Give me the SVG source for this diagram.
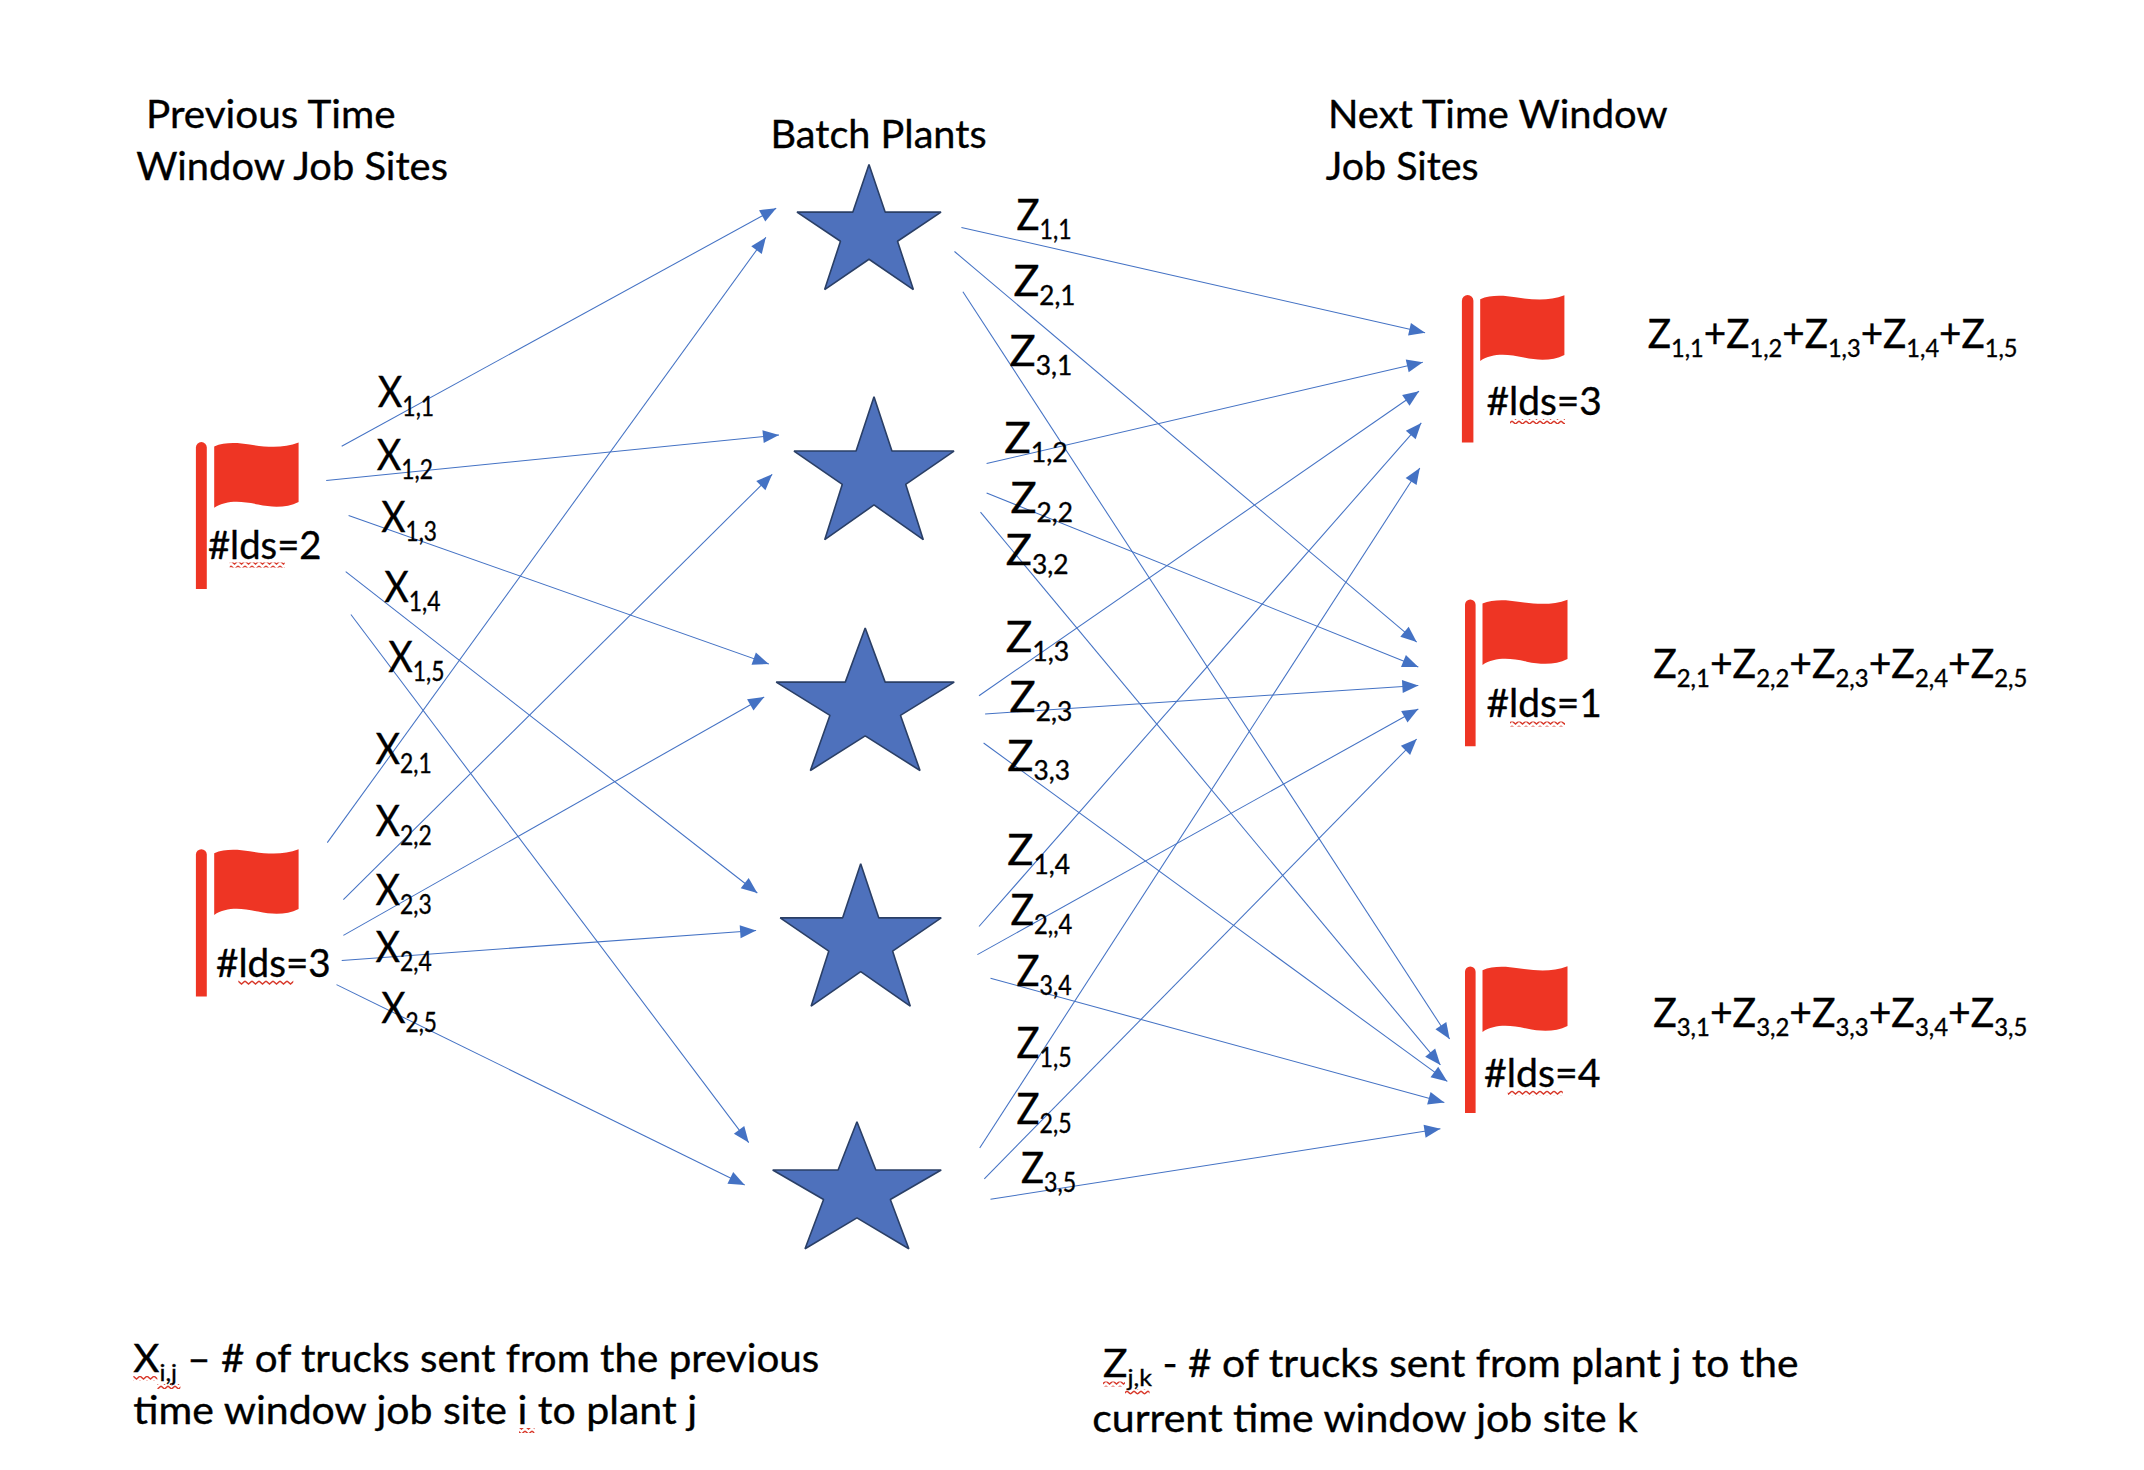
<svg xmlns="http://www.w3.org/2000/svg" width="2144" height="1470" viewBox="0 0 2144 1470">
<style>
text{font-family:Lato,"Liberation Sans",sans-serif;font-size:39px;fill:#000;stroke:#000;stroke-width:.35}
#x-labels text,#z-labels text{font-size:43px}
#sums text{font-size:41px}
.s{font-size:26px}
#sums .s{font-size:25px}
#legend .s{font-size:24px}
.c{fill:none;stroke:#4472C4;stroke-width:1.05;marker-end:url(#a)}
.r{fill:#EE3524}
.star{fill:#4E71BC;stroke:#2A3F66;stroke-width:1.6;stroke-linejoin:bevel;vector-effect:non-scaling-stroke}
symbol{overflow:visible}
</style>
<defs>
<marker id="a" markerUnits="userSpaceOnUse" markerWidth="18" markerHeight="14" refX="16" refY="7" orient="auto" overflow="visible"><path d="M0,0.5L16,7L0,13.5Z" fill="#4472C4"/></marker>
<symbol id="star" viewBox="0 0 100 100" preserveAspectRatio="none"><polygon class="star" points="50,0 61.2,38 100,38 69.8,61.3 80.8,100 50,75.7 19.2,100 30.2,61.3 0,38 38.8,38"/></symbol>
<symbol id="flag" viewBox="0 0 100 100" preserveAspectRatio="none"><path class="r" d="M0,6C12,-1 28,0 42,3C62,7 82,9 100,0L100,91C86,100 70,100 52,95C32,89 14,88 0,100Z"/></symbol>
<pattern id="sq" width="7" height="5" patternUnits="userSpaceOnUse"><path d="M0,1L3.5,4L7,1" fill="none" stroke="#D8392B" stroke-width="1.5"/></pattern>
</defs>
<rect width="2144" height="1470" fill="#fff"/>
<g id="connectors">
<line class="c" x1="341.7" y1="446.2" x2="776.2" y2="208.2"/>
<line class="c" x1="326.2" y1="480.5" x2="779" y2="435"/>
<line class="c" x1="348.6" y1="515.4" x2="768.8" y2="664"/>
<line class="c" x1="345.7" y1="571.6" x2="757.3" y2="893"/>
<line class="c" x1="350.9" y1="614.5" x2="748.7" y2="1142.6"/>
<line class="c" x1="327.3" y1="842.6" x2="765.9" y2="237.2"/>
<line class="c" x1="343.4" y1="899.7" x2="772.2" y2="474.3"/>
<line class="c" x1="343.4" y1="935.4" x2="764.2" y2="697"/>
<line class="c" x1="341.7" y1="960.4" x2="756.1" y2="930.5"/>
<line class="c" x1="336.5" y1="984.6" x2="744.7" y2="1185"/>
<line class="c" x1="961.4" y1="227.4" x2="1425.1" y2="332.8"/>
<line class="c" x1="954.5" y1="251.5" x2="1416.7" y2="642.1"/>
<line class="c" x1="962.9" y1="291.7" x2="1449.6" y2="1039"/>
<line class="c" x1="986.6" y1="463.6" x2="1422.8" y2="362.2"/>
<line class="c" x1="986.6" y1="493" x2="1418.3" y2="667"/>
<line class="c" x1="980.5" y1="512.2" x2="1440.4" y2="1064.9"/>
<line class="c" x1="979" y1="695.7" x2="1419" y2="391.2"/>
<line class="c" x1="985.1" y1="714" x2="1418.3" y2="685.4"/>
<line class="c" x1="983.6" y1="743" x2="1447.3" y2="1081.4"/>
<line class="c" x1="979" y1="926.5" x2="1421.3" y2="422.9"/>
<line class="c" x1="977.4" y1="954.6" x2="1418.3" y2="709"/>
<line class="c" x1="990.5" y1="978.3" x2="1444.3" y2="1102.4"/>
<line class="c" x1="979.7" y1="1148" x2="1419.8" y2="468"/>
<line class="c" x1="984.3" y1="1178.8" x2="1416.7" y2="739"/>
<line class="c" x1="990.5" y1="1199.3" x2="1440.4" y2="1128.8"/>
</g>
<g id="site-prev-1"><path class="r" d="M195.9,589V447.5a5.4,5.4 0 0 1 10.9,0V589Z"/><use href="#flag" x="214.2" y="442.6" width="84.4" height="65.2"/><text x="207.9" y="558.7" textLength="113.7" lengthAdjust="spacingAndGlyphs">#lds=2</text><rect x="229.7" y="562.5" width="55" height="5" fill="url(#sq)"/></g>
<g id="site-prev-2"><path class="r" d="M195.9,996.6V854.6a5.4,5.4 0 0 1 10.9,0V996.6Z"/><use href="#flag" x="214.2" y="849.3" width="84.4" height="65.6"/><text x="216" y="977.4" textLength="114.8" lengthAdjust="spacingAndGlyphs">#lds=3</text><rect x="238.3" y="980" width="55" height="5" fill="url(#sq)"/></g>
<g id="plant-1"><use href="#star" x="797" y="164.6" width="144" height="125"/></g>
<g id="plant-2"><use href="#star" x="794" y="396.7" width="160" height="143"/></g>
<g id="plant-3"><use href="#star" x="776.2" y="628" width="178" height="142.5"/></g>
<g id="plant-4"><use href="#star" x="780.2" y="863.7" width="161" height="142.5"/></g>
<g id="plant-5"><use href="#star" x="772.7" y="1121.7" width="168.5" height="127"/></g>
<g id="site-next-1"><path class="r" d="M1461.9,442.6V300.7a5.7,5.7 0 0 1 11.5,0V442.6Z"/><use href="#flag" x="1480.2" y="295.3" width="84.2" height="65.6"/><text x="1486.4" y="414.9" textLength="115.5" lengthAdjust="spacingAndGlyphs">#lds=3</text><rect x="1510" y="419" width="55" height="5" fill="url(#sq)"/></g>
<g id="site-next-2"><path class="r" d="M1465,746.2V604.7a5.3,5.3 0 0 1 10.6,0V746.2Z"/><use href="#flag" x="1482.5" y="599.7" width="85" height="65.2"/><text x="1486.4" y="717" textLength="115.5" lengthAdjust="spacingAndGlyphs">#lds=1</text><rect x="1510" y="721.5" width="55" height="5" fill="url(#sq)"/></g>
<g id="site-next-3"><path class="r" d="M1465,1113.1V971.7a5.3,5.3 0 0 1 10.6,0V1113.1Z"/><use href="#flag" x="1482.5" y="966.3" width="85" height="65.6"/><text x="1484" y="1087.2" textLength="116.4" lengthAdjust="spacingAndGlyphs">#lds=4</text><rect x="1507.8" y="1090.5" width="55" height="5" fill="url(#sq)"/></g>
<g id="headings">
<text x="146" y="128" textLength="249.6" lengthAdjust="spacingAndGlyphs">Previous Time</text>
<text x="136.2" y="179.6" textLength="311.7" lengthAdjust="spacingAndGlyphs">Window Job Sites</text>
<text x="770.5" y="148" textLength="216.1" lengthAdjust="spacingAndGlyphs">Batch Plants</text>
<text x="1328" y="128.3" textLength="339.7" lengthAdjust="spacingAndGlyphs">Next Time Window</text>
<text x="1325.7" y="179.6" textLength="153" lengthAdjust="spacingAndGlyphs">Job Sites</text>
</g>
<g id="x-labels">
<text x="377.8" y="407.3" textLength="56.3" lengthAdjust="spacingAndGlyphs">X<tspan class="s" dy="9">1,1</tspan></text>
<text x="376.7" y="470.3" textLength="56.3" lengthAdjust="spacingAndGlyphs">X<tspan class="s" dy="9">1,2</tspan></text>
<text x="381.3" y="531.9" textLength="55.7" lengthAdjust="spacingAndGlyphs">X<tspan class="s" dy="9">1,3</tspan></text>
<text x="384.2" y="601.5" textLength="56.2" lengthAdjust="spacingAndGlyphs">X<tspan class="s" dy="9">1,4</tspan></text>
<text x="388.2" y="672" textLength="56.2" lengthAdjust="spacingAndGlyphs">X<tspan class="s" dy="9">1,5</tspan></text>
<text x="375.5" y="763.5" textLength="56.3" lengthAdjust="spacingAndGlyphs">X<tspan class="s" dy="9">2,1</tspan></text>
<text x="375.5" y="835.9" textLength="56.3" lengthAdjust="spacingAndGlyphs">X<tspan class="s" dy="9">2,2</tspan></text>
<text x="375.5" y="905" textLength="56.3" lengthAdjust="spacingAndGlyphs">X<tspan class="s" dy="9">2,3</tspan></text>
<text x="375.5" y="962" textLength="56.3" lengthAdjust="spacingAndGlyphs">X<tspan class="s" dy="9">2,4</tspan></text>
<text x="381.3" y="1023.4" textLength="55.7" lengthAdjust="spacingAndGlyphs">X<tspan class="s" dy="9">2,5</tspan></text>
</g>
<g id="z-labels">
<text x="1016.5" y="229.6" textLength="55.1" lengthAdjust="spacingAndGlyphs">Z<tspan class="s" dy="9">1,1</tspan></text>
<text x="1013.4" y="295.7" textLength="62" lengthAdjust="spacingAndGlyphs">Z<tspan class="s" dy="9">2,1</tspan></text>
<text x="1009.6" y="366.3" textLength="62.7" lengthAdjust="spacingAndGlyphs">Z<tspan class="s" dy="9">3,1</tspan></text>
<text x="1004.2" y="452.9" textLength="63.6" lengthAdjust="spacingAndGlyphs">Z<tspan class="s" dy="9">1,2</tspan></text>
<text x="1010.4" y="513" textLength="62.6" lengthAdjust="spacingAndGlyphs">Z<tspan class="s" dy="9">2,2</tspan></text>
<text x="1005.8" y="565.4" textLength="62.7" lengthAdjust="spacingAndGlyphs">Z<tspan class="s" dy="9">3,2</tspan></text>
<text x="1005.8" y="652.4" textLength="63.5" lengthAdjust="spacingAndGlyphs">Z<tspan class="s" dy="9">1,3</tspan></text>
<text x="1009.6" y="711.8" textLength="62.7" lengthAdjust="spacingAndGlyphs">Z<tspan class="s" dy="9">2,3</tspan></text>
<text x="1007.3" y="771" textLength="62.7" lengthAdjust="spacingAndGlyphs">Z<tspan class="s" dy="9">3,3</tspan></text>
<text x="1007.3" y="864.9" textLength="62.7" lengthAdjust="spacingAndGlyphs">Z<tspan class="s" dy="9">1,4</tspan></text>
<text x="1010.4" y="925.2" textLength="61.9" lengthAdjust="spacingAndGlyphs">Z<tspan class="s" dy="9">2,,4</tspan></text>
<text x="1016.5" y="986.3" textLength="55.1" lengthAdjust="spacingAndGlyphs">Z<tspan class="s" dy="9">3,4</tspan></text>
<text x="1016.5" y="1058.2" textLength="55.1" lengthAdjust="spacingAndGlyphs">Z<tspan class="s" dy="9">1,5</tspan></text>
<text x="1016.5" y="1123.8" textLength="55.1" lengthAdjust="spacingAndGlyphs">Z<tspan class="s" dy="9">2,5</tspan></text>
<text x="1021" y="1183.2" textLength="55.2" lengthAdjust="spacingAndGlyphs">Z<tspan class="s" dy="9">3,5</tspan></text>
</g>
<g id="sums">
<text x="1647.8" y="348" textLength="369.7" lengthAdjust="spacingAndGlyphs">Z<tspan class="s" dy="9">1,1</tspan><tspan dy="-9">+Z</tspan><tspan class="s" dy="9">1,2</tspan><tspan dy="-9">+Z</tspan><tspan class="s" dy="9">1,3</tspan><tspan dy="-9">+Z</tspan><tspan class="s" dy="9">1,4</tspan><tspan dy="-9">+Z</tspan><tspan class="s" dy="9">1,5</tspan></text>
<text x="1653.2" y="678.3" textLength="374.2" lengthAdjust="spacingAndGlyphs">Z<tspan class="s" dy="9">2,1</tspan><tspan dy="-9">+Z</tspan><tspan class="s" dy="9">2,2</tspan><tspan dy="-9">+Z</tspan><tspan class="s" dy="9">2,3</tspan><tspan dy="-9">+Z</tspan><tspan class="s" dy="9">2,4</tspan><tspan dy="-9">+Z</tspan><tspan class="s" dy="9">2,5</tspan></text>
<text x="1653.2" y="1027" textLength="374.2" lengthAdjust="spacingAndGlyphs">Z<tspan class="s" dy="9">3,1</tspan><tspan dy="-9">+Z</tspan><tspan class="s" dy="9">3,2</tspan><tspan dy="-9">+Z</tspan><tspan class="s" dy="9">3,3</tspan><tspan dy="-9">+Z</tspan><tspan class="s" dy="9">3,4</tspan><tspan dy="-9">+Z</tspan><tspan class="s" dy="9">3,5</tspan></text>
</g>
<g id="legend">
<text x="133.3" y="1371.6" textLength="686" lengthAdjust="spacingAndGlyphs">X<tspan class="s" dy="9">i,j</tspan><tspan dy="-9"> – # of trucks sent from the previous</tspan></text>
<text x="133.3" y="1423.8" textLength="563.7" lengthAdjust="spacingAndGlyphs">time window job site i to plant j</text>
<text x="1103" y="1377.4" textLength="695.6" lengthAdjust="spacingAndGlyphs">Z<tspan class="s" dy="9">j,k</tspan><tspan dy="-9"> - # of trucks sent from plant j to the</tspan></text>
<text x="1092.2" y="1431.9" textLength="545.7" lengthAdjust="spacingAndGlyphs">current time window job site k</text>
<rect x="133.3" y="1376" width="24" height="5" fill="url(#sq)"/>
<rect x="157.4" y="1384" width="23" height="5" fill="url(#sq)"/>
<rect x="519" y="1428" width="15.5" height="5" fill="url(#sq)"/>
<rect x="1103" y="1381.5" width="22" height="5" fill="url(#sq)"/>
<rect x="1125" y="1389.5" width="24.6" height="5" fill="url(#sq)"/>
</g>
</svg>
